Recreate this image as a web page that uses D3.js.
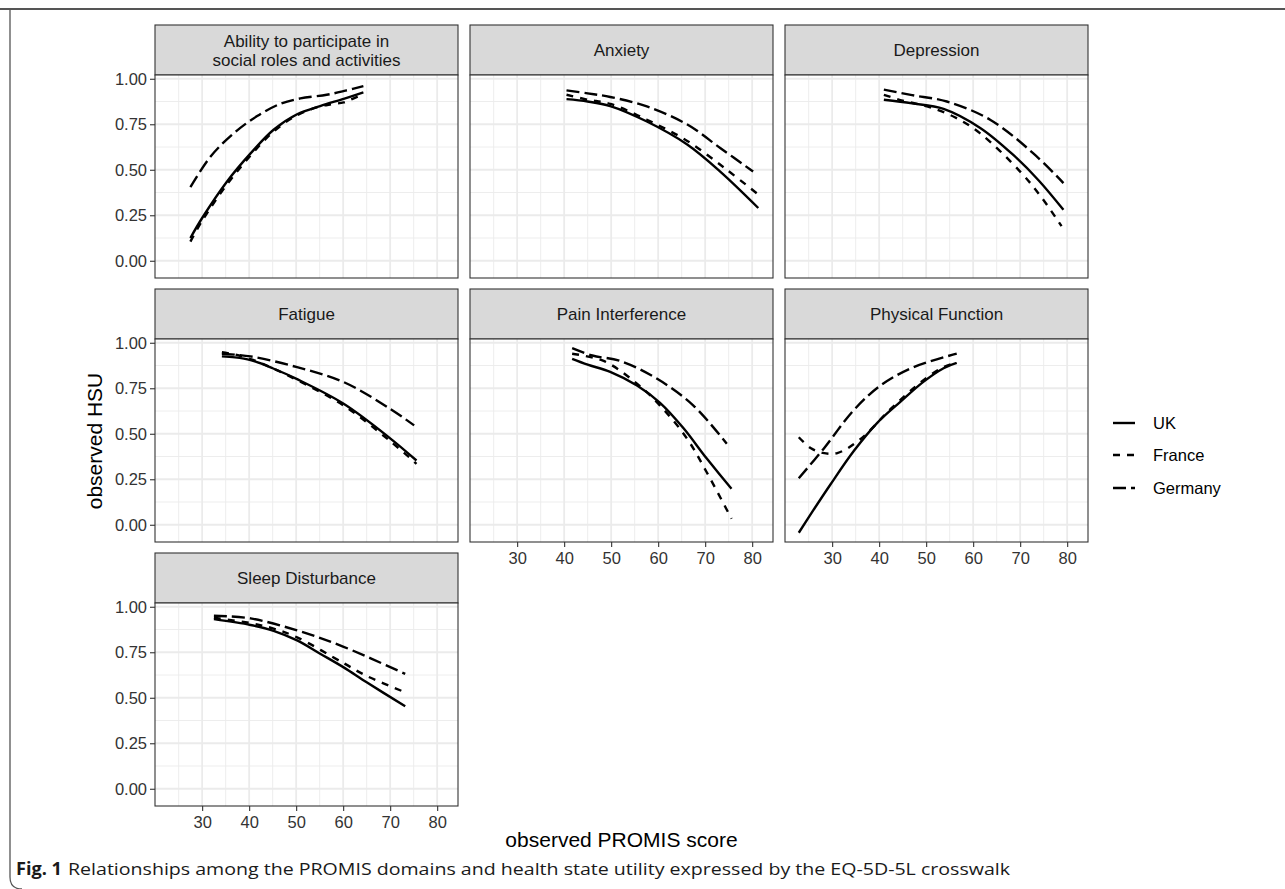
<!DOCTYPE html>
<html>
<head>
<meta charset="utf-8">
<script src="https://cdn.jsdelivr.net/npm/d3@7"></script>
<style>
  body { margin: 0; background: #fff; }
  svg text { font-family: "Liberation Sans", Arial, sans-serif; }
</style>
</head>
<body>
<div id="chart"></div>
<script>
/*global d3 */

// data
var countries = ["UK", "France", "Germany"];
var domainNames = [
    ["Ability to participate in", "social roles and activities"],
    ["Anxiety"], ["Depression"], ["Fatigue"], ["Pain Interference"],
    ["Physical Function"], ["Sleep Disturbance"]
];
var xTicks = [30, 40, 50, 60, 70, 80];
var xMinor = [25, 35, 45, 55, 65, 75];
var yTicks = [0, 0.25, 0.5, 0.75, 1];
var yMinor = [0.125, 0.375, 0.625, 0.875];

var ability = {
    UK: [[27.5,0.125],[30,0.235],[35.3,0.436],[40.3,0.59],[45.2,0.72],[50.2,0.805],[55.1,0.85],[60.1,0.89],[64.3,0.925]],
    France: [[27.5,0.105],[30,0.22],[35.3,0.42],[40.3,0.578],[45.2,0.71],[50.2,0.8],[55.1,0.848],[57.5,0.86],[60.1,0.87],[62,0.89],[64.3,0.915]],
    Germany: [[27.5,0.405],[31.8,0.573],[36.7,0.70],[41.7,0.795],[46.6,0.862],[50.9,0.892],[56.5,0.912],[60.5,0.935],[64.3,0.96]]
};
var anxiety = {
    UK: [[40.5,0.888],[45,0.875],[49.8,0.85],[57.6,0.765],[66.1,0.64],[73.2,0.49],[81.3,0.29]],
    France: [[40.5,0.912],[45,0.885],[49.8,0.862],[57.6,0.775],[66.1,0.66],[74.6,0.50],[81.5,0.36]],
    Germany: [[40.5,0.936],[45,0.92],[49.8,0.9],[57.6,0.848],[66.1,0.75],[73.2,0.62],[80.2,0.49]]
};
var depression = {
    UK: [[41,0.885],[47,0.865],[53.7,0.835],[61.5,0.73],[68.6,0.58],[74,0.44],[79.2,0.28]],
    France: [[41,0.912],[45,0.88],[50.2,0.848],[56,0.79],[61.5,0.70],[70,0.49],[74.5,0.35],[78.8,0.19]],
    Germany: [[41,0.94],[47,0.91],[54.4,0.875],[63.6,0.775],[72.8,0.59],[79.2,0.427]]
};
var fatigue = {
    UK: [[34.2,0.925],[37,0.92],[40.3,0.905],[45,0.86],[50.2,0.8],[60.1,0.665],[70,0.475],[75.6,0.353]],
    France: [[34.2,0.948],[37,0.935],[40.3,0.91],[45,0.86],[50.2,0.795],[60.1,0.655],[70,0.46],[75.6,0.335]],
    Germany: [[34.2,0.94],[40.3,0.925],[50.2,0.866],[60.1,0.784],[70,0.637],[75.1,0.546]]
};
var pain = {
    UK: [[41.7,0.912],[45,0.88],[49.8,0.84],[55.5,0.765],[60.4,0.67],[65.4,0.53],[70.3,0.365],[75.6,0.198]],
    France: [[41.7,0.94],[48.4,0.9],[54.8,0.79],[60.4,0.655],[66.1,0.475],[70.3,0.29],[75.6,0.033]],
    Germany: [[41.7,0.97],[46,0.93],[51.9,0.9],[59.6,0.805],[67.5,0.655],[74.6,0.445]]
};
var physical = {
    UK: [[22.9,-0.044],[26,0.08],[29.6,0.22],[34.6,0.405],[39.6,0.56],[44.5,0.675],[49.4,0.785],[53.7,0.86],[56.5,0.89]],
    France: [[22.9,0.481],[25.5,0.42],[28,0.395],[31.1,0.394],[36,0.47],[42.4,0.635],[48,0.765],[53,0.857],[56.5,0.893]],
    Germany: [[22.9,0.256],[28.2,0.418],[34.6,0.63],[40.3,0.765],[47.3,0.866],[56.5,0.94]]
};
var sleep = {
    UK: [[32.5,0.932],[40.3,0.9],[45.2,0.868],[50.2,0.815],[55.1,0.742],[60.1,0.667],[65,0.585],[73.2,0.453]],
    France: [[32.5,0.94],[40.3,0.91],[45.2,0.88],[50.2,0.832],[60.1,0.69],[65,0.62],[73.2,0.53]],
    Germany: [[32.5,0.951],[40.3,0.936],[50.2,0.87],[60.1,0.78],[73.2,0.631]]
};
var panelData = [ability, anxiety, depression, fatigue, pain, physical, sleep];

// layout
var W = 1285, H = 889;
var ncol = 3;
var colLeft = [155, 470, 785], panelW = 303;
var rowTop = [25, 289, 553], stripH = 50, plotH = 203;
var dashes = { UK: null, France: "7,7", Germany: "13,5" };
var lineW = 2.4;

var svg = d3.select("#chart").append("svg")
    .attr("width", W).attr("height", H);

// shared scales (ggplot style 5% expansion)
var allPts = [];
panelData.forEach(function(p){ countries.forEach(function(c){ allPts = allPts.concat(p[c]); }); });
var xe = d3.extent(allPts, function(d){ return d[0]; });
var ye = d3.extent(allPts, function(d){ return d[1]; });
var xpad = (xe[1] - xe[0]) * 0.05, ypad = (ye[1] - ye[0]) * 0.05;

var x = d3.scaleLinear().domain([xe[0] - xpad, xe[1] + xpad]).range([0, panelW]);
var y = d3.scaleLinear().domain([ye[0] - ypad, ye[1] + ypad]).range([plotH, 0]);

var line = d3.line()
    .x(function(d){ return x(d[0]); })
    .y(function(d){ return y(d[1]); })
    .curve(d3.curveCatmullRom.alpha(0.5));

panelData.forEach(function(pd, i){
    var col = i % ncol, row = Math.floor(i / ncol);
    var g = svg.append("g")
        .attr("transform", "translate(" + colLeft[col] + "," + rowTop[row] + ")");

    // strip
    g.append("rect").attr("x", 0).attr("y", 0)
        .attr("width", panelW).attr("height", stripH)
        .attr("fill", "#d9d9d9").attr("stroke", "#333").attr("stroke-width", 1.1);
    var lines = domainNames[i];
    lines.forEach(function(t, k){
        g.append("text")
            .attr("x", panelW / 2)
            .attr("y", stripH / 2 + 6 + (k - (lines.length - 1) / 2) * 19)
            .attr("text-anchor", "middle")
            .attr("font-size", 17).attr("fill", "#1a1a1a")
            .text(t);
    });

    var p = g.append("g").attr("transform", "translate(0," + stripH + ")");
    p.append("rect").attr("width", panelW).attr("height", plotH).attr("fill", "#fff");

    // grid
    p.selectAll(".xminor").data(xMinor).enter().append("line")
        .attr("x1", x).attr("x2", x).attr("y1", 0).attr("y2", plotH)
        .attr("stroke", "#ebebeb").attr("stroke-width", 0.9);
    p.selectAll(".yminor").data(yMinor).enter().append("line")
        .attr("y1", y).attr("y2", y).attr("x1", 0).attr("x2", panelW)
        .attr("stroke", "#ebebeb").attr("stroke-width", 0.9);
    p.selectAll(".xmajor").data(xTicks).enter().append("line")
        .attr("x1", x).attr("x2", x).attr("y1", 0).attr("y2", plotH)
        .attr("stroke", "#ebebeb").attr("stroke-width", 1.8);
    p.selectAll(".ymajor").data(yTicks).enter().append("line")
        .attr("y1", y).attr("y2", y).attr("x1", 0).attr("x2", panelW)
        .attr("stroke", "#ebebeb").attr("stroke-width", 1.8);

    // curves
    countries.forEach(function(c){
        p.append("path")
            .datum(pd[c])
            .attr("d", line)
            .attr("fill", "none")
            .attr("stroke", "#000")
            .attr("stroke-width", lineW)
            .attr("stroke-dasharray", dashes[c]);
    });

    p.append("rect").attr("width", panelW).attr("height", plotH)
        .attr("fill", "none").attr("stroke", "#333").attr("stroke-width", 1.1);

    // axes: y on first column, x on bottom panel of each column
    if (col === 0) {
        var ya = p.append("g")
            .call(d3.axisLeft(y).tickValues(yTicks).tickFormat(d3.format(".2f")).tickSize(5).tickPadding(3));
        ya.select(".domain").remove();
        ya.selectAll("line").attr("stroke", "#333").attr("stroke-width", 1.1);
        ya.selectAll("text").attr("font-size", 16.5).attr("fill", "#333")
            .style("font-family", "'Liberation Sans', Arial, sans-serif");
    }
    var below = i + ncol;
    if (below >= panelData.length) {
        var xa = p.append("g").attr("transform", "translate(0," + plotH + ")")
            .call(d3.axisBottom(x).tickValues(xTicks).tickSize(5).tickPadding(5));
        xa.select(".domain").remove();
        xa.selectAll("line").attr("stroke", "#333").attr("stroke-width", 1.1);
        xa.selectAll("text").attr("font-size", 16.5).attr("fill", "#333")
            .style("font-family", "'Liberation Sans', Arial, sans-serif");
    }
});

// axis titles
svg.append("text")
    .attr("x", (colLeft[0] + colLeft[2] + panelW) / 2).attr("y", 847)
    .attr("text-anchor", "middle").attr("font-size", 21).attr("fill", "#000")
    .text("observed PROMIS score");
svg.append("text")
    .attr("transform", "translate(102,441) rotate(-90)")
    .attr("text-anchor", "middle").attr("font-size", 21).attr("fill", "#000")
    .text("observed HSU");

// legend
var legY = [423, 455, 488];
countries.forEach(function(c, k){
    svg.append("line")
        .attr("x1", 1113).attr("x2", 1135).attr("y1", legY[k]).attr("y2", legY[k])
        .attr("stroke", "#000").attr("stroke-width", lineW)
        .attr("stroke-dasharray", dashes[c]);
    svg.append("text")
        .attr("x", 1153).attr("y", legY[k] + 5.5)
        .attr("font-size", 16.5).attr("fill", "#000")
        .text(c);
});

// figure frame and caption
svg.append("line").attr("x1", 0).attr("x2", W).attr("y1", 9).attr("y2", 9)
    .attr("stroke", "#555").attr("stroke-width", 2);
svg.append("path").attr("d", "M10,9 V877 Q10,889 22,889")
    .attr("fill", "none").attr("stroke", "#555").attr("stroke-width", 1.3);

var cap = svg.append("text").attr("x", 16).attr("y", 875)
    .attr("font-size", 17).attr("fill", "#1a1a1a")
    .style("font-family", "'Open Sans', sans-serif");
cap.append("tspan").attr("font-weight", "bold")
    .attr("textLength", 46).attr("lengthAdjust", "spacingAndGlyphs").text("Fig. 1");
svg.append("text").attr("x", 68).attr("y", 875)
    .attr("font-size", 16).attr("fill", "#1a1a1a")
    .attr("textLength", 942).attr("lengthAdjust", "spacingAndGlyphs")
    .style("font-family", "'Open Sans', sans-serif")
    .text("Relationships among the PROMIS domains and health state utility expressed by the EQ-5D-5L crosswalk");
</script>
</body>
</html>
